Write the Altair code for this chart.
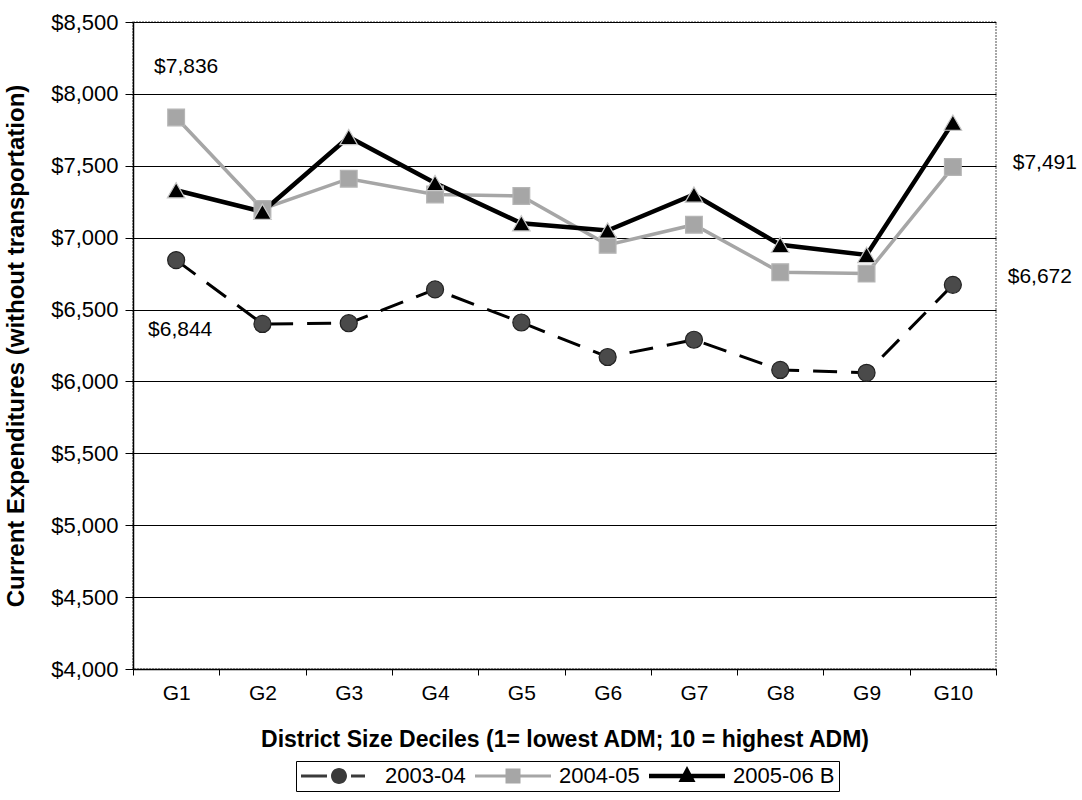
import altair as alt
import pandas as pd

# District size deciles and per-pupil current expenditures (without transportation)
deciles = ["G1", "G2", "G3", "G4", "G5", "G6", "G7", "G8", "G9", "G10"]
series_names = ["2003-04", "2004-05", "2005-06 B"]
spend_2003_04 = [6844, 6400, 6405, 6640, 6410, 6170, 6290, 6080, 6060, 6672]
spend_2004_05 = [7836, 7200, 7410, 7300, 7290, 6950, 7090, 6760, 6750, 7491]
spend_2005_06 = [7330, 7180, 7700, 7380, 7100, 7050, 7300, 6950, 6880, 7800]
y_ticks = [4000, 4500, 5000, 5500, 6000, 6500, 7000, 7500, 8000, 8500]

rows = []
for name, values in zip(series_names, [spend_2003_04, spend_2004_05, spend_2005_06]):
    for g, v in zip(deciles, values):
        rows.append({"decile": g, "series": name, "spend": v})
df = pd.DataFrame(rows)

FONT = "Liberation Sans"

x_enc = alt.X(
    "decile:N",
    sort=deciles,
    scale=alt.Scale(type="band", domain=deciles, paddingInner=0, paddingOuter=0),
    axis=alt.Axis(
        title="District Size Deciles (1= lowest ADM; 10 = highest ADM)",
        tickBand="extent",
        labelAngle=0,
        labelFontSize=21,
        labelPadding=7,
        tickSize=6,
        titleFontSize=23,
        titlePadding=25,
        grid=False,
    ),
)
y_enc = alt.Y(
    "spend:Q",
    scale=alt.Scale(domain=[4000, 8500], nice=False, zero=False),
    axis=alt.Axis(
        title="Current Expenditures (without transportation)",
        values=y_ticks,
        format="$,.0f",
        labelFontSize=22,
        labelPadding=7,
        tickSize=8,
        titleFontSize=24,
        titlePadding=22,
        grid=True,
        gridColor="#000000",
        gridWidth=1,
    ),
)

base = alt.Chart(df)

# Line and marker styling for each school year
line_styles = {
    "2003-04": dict(color="#000000", strokeWidth=3, strokeDash=[24, 14]),
    "2004-05": dict(color="#a6a6a6", strokeWidth=3.5),
    "2005-06 B": dict(color="#000000", strokeWidth=4.5),
}
marker_styles = {
    "2003-04": dict(shape="circle", fill="#4a4a4a", stroke="#222222", size=290),
    "2004-05": dict(shape="square", fill="#a6a6a6", stroke="#b5b5b5", size=280),
    "2005-06 B": dict(shape="triangle-up", fill="#000000", stroke="#c8c8c8", size=310),
}

layers = []
for name in series_names:
    layers.append(
        base.transform_filter(alt.datum.series == name)
        .mark_line(**line_styles[name])
        .encode(x=x_enc, y=y_enc)
    )
for name in series_names:
    m = marker_styles[name]
    layers.append(
        base.transform_filter(alt.datum.series == name)
        .mark_point(filled=True, opacity=1, strokeWidth=1.2, **m)
        .encode(x=x_enc, y=y_enc)
    )

# Value call-outs at the first and last decile
annotations = [
    ("2004-05", "G1", 10, -50),
    ("2003-04", "G1", 4, 70),
    ("2004-05", "G10", 92, -4),
    ("2003-04", "G10", 87, -8),
]
for name, g, dx, dy in annotations:
    layers.append(
        base.transform_filter((alt.datum.series == name) & (alt.datum.decile == g))
        .mark_text(font=FONT, fontSize=21, color="#000000", dx=dx, dy=dy, align="center", baseline="middle")
        .encode(x=x_enc, y=y_enc, text=alt.Text("spend:Q", format="$,.0f"))
    )

# Legend glyphs: a line segment with the series marker in the middle
# (unit = 10px at symbolSize 400; each glyph runs from x=-1 to x=6.6, marker at x=2.8)
legend_paths = [
    "M-1,-0.15H1.6V0.15H-1Z M4.0,-0.15H5.4V0.15H4.0Z "
    "M3.6,0A0.8,0.8,0,1,1,2.0,0A0.8,0.8,0,1,1,3.6,0Z",
    "M-1,-0.15H6.6V0.15H-1Z M2.05,-0.75H3.55V0.75H2.05Z",
    "M-1,-0.22H6.6V0.22H-1Z M2.8,-1.0L3.65,0.6L1.95,0.6Z",
]
legend_fill = ["#3a3a3a", "#a6a6a6", "#000000"]
legend_def = alt.Legend(
    title=None,
    orient="none",
    legendX=163,
    legendY=739,
    direction="horizontal",
    labelFontSize=22,
    labelFont=FONT,
    labelColor="#000000",
    labelOffset=63,
    columnPadding=8,
    symbolSize=400,
    symbolStrokeWidth=0,
    strokeColor="#000000",
    padding=4,
)
legend_layer = (
    base.transform_filter("false")
    .mark_point(filled=True, opacity=1, strokeWidth=0)
    .encode(
        x=x_enc,
        y=y_enc,
        fill=alt.Fill("series:N", scale=alt.Scale(domain=series_names, range=legend_fill), legend=legend_def),
        shape=alt.Shape("series:N", scale=alt.Scale(domain=series_names, range=legend_paths), legend=legend_def),
    )
)
layers.append(legend_layer)

chart = (
    alt.layer(*layers)
    .properties(width=863, height=647, padding={"left": 4, "top": 11, "right": 2, "bottom": 2}, background="#ffffff")
    .configure_view(stroke="#8a8a8a", strokeWidth=1.5, strokeDash=[2, 1])
    .configure_axis(
        labelFont=FONT,
        titleFont=FONT,
        labelColor="#000000",
        titleColor="#000000",
        domainColor="#000000",
        tickColor="#000000",
        domainWidth=1.5,
        titleFontWeight="bold",
    )
)

chart.save("out.html", embed_options={"renderer": "svg", "actions": False})
